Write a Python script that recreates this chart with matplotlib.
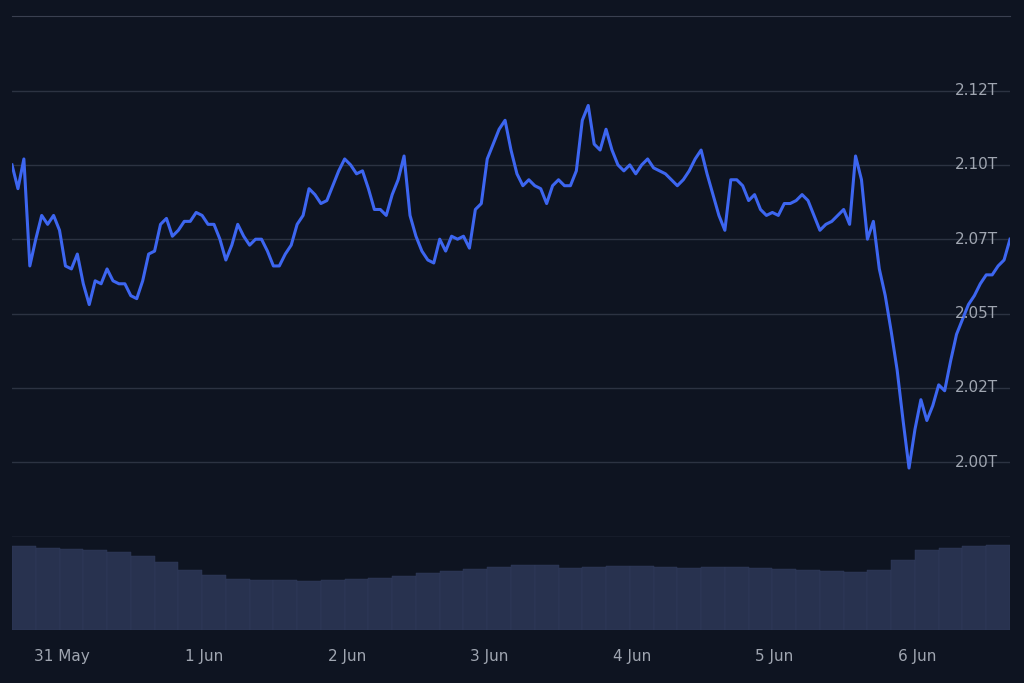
import matplotlib
matplotlib.use("Agg")
import matplotlib.pyplot as plt
import pandas as pd
import numpy as np

price_T = [2.100,2.092,2.102,2.066,2.075,2.083,2.080,2.083,2.078,2.066,2.065,2.070,2.060,2.053,2.061,2.060,2.065,2.061,2.060,2.060,2.056,2.055,2.061,2.070,2.071,2.080,2.082,2.076,2.078,2.081,2.081,2.084,2.083,2.080,2.080,2.075,2.068,2.073,2.080,2.076,2.073,2.075,2.075,2.071,2.066,2.066,2.070,2.073,2.080,2.083,2.092,2.090,2.087,2.088,2.093,2.098,2.102,2.100,2.097,2.098,2.092,2.085,2.085,2.083,2.090,2.095,2.103,2.083,2.076,2.071,2.068,2.067,2.075,2.071,2.076,2.075,2.076,2.072,2.085,2.087,2.102,2.107,2.112,2.115,2.105,2.097,2.093,2.095,2.093,2.092,2.087,2.093,2.095,2.093,2.093,2.098,2.115,2.120,2.107,2.105,2.112,2.105,2.100,2.098,2.100,2.097,2.100,2.102,2.099,2.098,2.097,2.095,2.093,2.095,2.098,2.102,2.105,2.097,2.090,2.083,2.078,2.095,2.095,2.093,2.088,2.090,2.085,2.083,2.084,2.083,2.087,2.087,2.088,2.090,2.088,2.083,2.078,2.080,2.081,2.083,2.085,2.080,2.103,2.095,2.075,2.081,2.065,2.056,2.044,2.031,2.014,1.998,2.011,2.021,2.014,2.019,2.026,2.024,2.034,2.043,2.048,2.053,2.056,2.060,2.063,2.063,2.066,2.068,2.075]
volume_B = [84,82,81,80,78,74,68,60,55,51,50,50,49,50,51,52,54,57,59,61,63,65,65,62,63,64,64,63,62,63,63,62,61,60,59,58,60,70,80,82,84,85]
date_labels = ["31 May","1 Jun","2 Jun","3 Jun","4 Jun","5 Jun","6 Jun"]
y_labels = ["2.00T","2.02T","2.05T","2.07T","2.10T","2.12T"]

bg = "#0e1421"
start = pd.Timestamp("2024-05-30 15:40")
t = start + pd.to_timedelta(np.arange(len(price_T)), unit="h")
tv = start + pd.to_timedelta(np.arange(len(volume_B)) * 4, unit="h")
end = start + pd.Timedelta(days=7.0)

fig = plt.figure(figsize=(10.24, 6.83), dpi=100, facecolor=bg)
ax = fig.add_axes([12/1024, 146/683, 998/1024, 521/683], facecolor=bg)
axv = fig.add_axes([12/1024, 53/683, 998/1024, 93/683], facecolor=bg, sharex=ax)

ax.plot(t, price_T, color="#3d66f0", lw=2.2)
ax.set_ylim(1.9748, 2.1501)
ax.set_xlim(start, end)
yt = [2.0, 2.025, 2.05, 2.075, 2.1, 2.125]
for v, lab in zip(yt, y_labels):
    ax.axhline(v, color="#2c3342", lw=1, zorder=0)
    ax.text(0.988, v, lab, transform=ax.get_yaxis_transform(), ha="right", va="center",
            color="#a0a6b1", fontsize=11)
ax.set_yticks([])
ax.tick_params(bottom=False, labelbottom=False)
for s in ["left", "right", "bottom"]:
    ax.spines[s].set_visible(False)
ax.spines["top"].set_color("#3a4050")
ax.axhline(1.9748, color="#3a4050", lw=1)

axv.bar(tv, volume_B, width=4/24, align="edge", color="#28324f", edgecolor="#323d5e", lw=0.3)
axv.set_ylim(0, 93)
axv.set_yticks([])
ticks = [pd.Timestamp(f"2024-{m}") for m in ["05-31","06-01","06-02","06-03","06-04","06-05","06-06"]]
axv.set_xticks(ticks)
axv.set_xticklabels(date_labels, color="#a0a6b1", fontsize=11)
axv.tick_params(axis="x", length=0, pad=14)
for s in axv.spines.values():
    s.set_visible(False)
axv.set_xlim(start, end)

fig.savefig("out.png", dpi=100, facecolor=bg)
